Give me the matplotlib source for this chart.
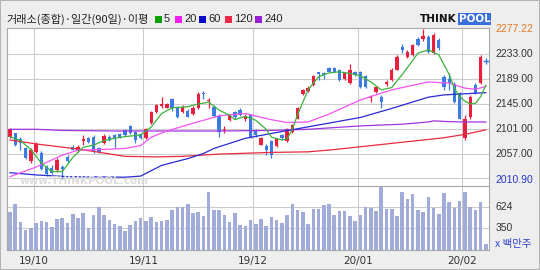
import matplotlib
matplotlib.use('Agg')
import matplotlib.pyplot as plt
from matplotlib.patches import Rectangle

plt.rcParams['font.family'] = ['Noto Sans CJK KR', 'DejaVu Sans']

W, H = 540, 270

# KOSPI daily candles, 2019-09-24 .. 2020-02-06
opens = [2087, 2093, 2082, 2066, 2043, 2060, 2058, 2033, 2032, 2028,
         2033, 2051, 2068, 2061, 2080, 2084, 2087, 2066, 2075, 2087,
         2090, 2091, 2099, 2105, 2095, 2091, 2084, 2111, 2130, 2142,
         2138, 2154, 2138, 2130, 2132, 2127, 2137, 2164, 2150, 2140,
         2124, 2099, 2117, 2130, 2134, 2118, 2125, 2097, 2073, 2071,
         2079, 2070, 2090, 2080, 2096, 2119, 2162, 2168, 2179, 2201,
         2199, 2208, 2209, 2205, 2190, 2183, 2202, 2201, 2194, 2155,
         2166, 2157, 2180, 2187, 2206, 2246, 2228, 2232, 2261, 2260,
         2264, 2235, 2258, 2193, 2189, 2180, 2164, 2084, 2121, 2178,
         2182]
highs = [2102, 2094, 2087, 2068, 2066, 2078, 2062, 2037, 2037, 2049,
         2037, 2054, 2072, 2072, 2090, 2086, 2090, 2068, 2092, 2090,
         2092, 2093, 2101, 2108, 2097, 2093, 2102, 2132, 2145, 2157,
         2146, 2156, 2141, 2143, 2136, 2141, 2166, 2168, 2155, 2143,
         2127, 2105, 2127, 2132, 2138, 2127, 2127, 2100, 2086, 2074,
         2081, 2084, 2092, 2102, 2109, 2139, 2172, 2177, 2197, 2202,
         2202, 2210, 2210, 2207, 2202, 2215, 2204, 2203, 2196, 2161,
         2177, 2161, 2187, 2209, 2231, 2251, 2241, 2251, 2264, 2277.22,
         2267, 2271, 2262, 2196, 2200, 2184, 2166, 2125, 2160, 2182,
         2231]
lows = [2084, 2070, 2063, 2047, 2040, 2058, 2028, 2017, 2020, 2024,
        2011, 2041, 2063, 2060, 2072, 2075, 2058, 2058, 2074, 2079,
        2066, 2084, 2088, 2092, 2075, 2083, 2083, 2109, 2129, 2138,
        2137, 2132, 2120, 2129, 2121, 2125, 2136, 2154, 2137, 2122,
        2087, 2093, 2115, 2118, 2124, 2115, 2085, 2086, 2072, 2054,
        2049, 2069, 2081, 2077, 2093, 2118, 2160, 2166, 2177, 2187,
        2190, 2201, 2201, 2186, 2188, 2181, 2194, 2173, 2173, 2149,
        2164, 2137, 2177, 2186, 2205, 2235, 2226, 2230, 2248, 2256,
        2235, 2233, 2241, 2170, 2170, 2146, 2118, 2081, 2118, 2162,
        2180]
closes = [2100, 2072, 2076, 2049, 2063, 2074, 2030, 2021, 2022, 2046,
          2030, 2044, 2064, 2069, 2082, 2078, 2060, 2060, 2088, 2081,
          2084, 2087, 2090, 2093, 2081, 2084, 2100, 2130, 2143, 2144,
          2144, 2137, 2122, 2140, 2122, 2138, 2162, 2162, 2152, 2124,
          2096, 2101, 2125, 2121, 2125, 2123, 2087, 2090, 2084, 2064,
          2054, 2082, 2084, 2100, 2108, 2137, 2170, 2174, 2195, 2198,
          2196, 2202, 2202, 2187, 2199, 2205, 2196, 2175, 2175, 2157,
          2175, 2148, 2184, 2206, 2229, 2240, 2237, 2249, 2250, 2266,
          2238, 2268, 2244, 2175, 2182, 2148, 2119, 2119, 2158, 2164,
          2228]
# volume, million shares
volumes = [553, 654, 426, 328, 358, 421, 443, 426, 363, 464,
           477, 421, 531, 485, 540, 350, 519, 620, 519, 451,
           401, 383, 320, 392, 438, 485, 443, 497, 430, 443,
           451, 582, 624, 624, 662, 540, 561, 510, 807, 582,
           582, 519, 430, 540, 396, 375, 451, 408, 468, 375,
           497, 451, 421, 519, 662, 582, 553, 408, 595, 595,
           642, 654, 519, 569, 569, 506, 443, 519, 624, 604,
           569, 878, 595, 595, 506, 807, 725, 781, 582, 553,
           751, 604, 531, 794, 684, 604, 696, 814, 624, 582,
           684]
# today's first tick
today_price = 2222
today_volume = 151

# moving averages (candle index -> value)
ma5_idx = [0, 2, 4, 6, 8, 10, 12, 14, 16, 18, 20, 22, 25, 27, 29, 31, 34, 36, 38,
           40, 42, 43, 45, 47, 49, 50, 52, 53, 54, 55, 57, 59, 61, 63, 65, 67,
           69, 71, 73, 75, 77, 78, 80, 82, 84, 85, 86, 87, 88, 89, 90, 91]
ma5_val = [2087, 2080, 2064, 2040, 2025, 2025, 2050, 2068, 2072, 2080, 2084, 2087,
           2090, 2104, 2128, 2138, 2140, 2145, 2148, 2134, 2125, 2117, 2123, 2116,
           2100, 2086, 2081, 2083, 2100, 2126, 2170, 2193, 2200, 2202, 2199, 2195,
           2184, 2170, 2174, 2197, 2222, 2235, 2241, 2232, 2197, 2172, 2158, 2150,
           2145, 2146, 2158, 2178]
ma20_idx = [0, 5, 10, 13, 17, 22, 25, 27, 30, 34, 37, 40, 45, 50, 53, 57, 61, 67,
            73, 80, 84, 87, 89, 91]
ma20_val = [2016, 2033, 2054, 2063, 2064, 2066, 2071, 2086, 2097, 2108, 2116, 2124,
            2128, 2117, 2112, 2113, 2127, 2152, 2170, 2184, 2182, 2173, 2171, 2176]
ma60_idx = [0, 5, 11, 22, 25, 29, 34, 37, 39, 45, 52, 58, 67, 73, 80, 83, 87, 91]
ma60_val = [2023, 2019, 2016, 2015, 2017, 2036, 2048, 2057, 2066, 2084, 2096, 2106,
            2121, 2137, 2157, 2161, 2163, 2165]
ma120_idx = [0, 5, 13, 22, 28, 33, 40, 50, 57, 62, 67, 75, 83, 87, 91]
ma120_val = [2081, 2074, 2065, 2052, 2051, 2052, 2056, 2059, 2060, 2064, 2069, 2077,
             2085, 2091, 2099]
ma240_idx = [0, 5, 10, 20, 30, 40, 50, 57, 62, 67, 75, 80, 81, 83, 86, 91]
ma240_val = [2100, 2100, 2098, 2097, 2097, 2097, 2098, 2100, 2103, 2106, 2109, 2113,
             2115, 2114, 2113, 2113]

month_labels = ['19/10', '19/11', '19/12', '20/01', '20/02']
month_first = [5, 26, 47, 67, 87]

price_labels = ['2277.22', '2233.00', '2189.00', '2145.00', '2101.00', '2057.00', '2010.90']
price_levels = [2277.22, 2233, 2189, 2145, 2101, 2057, 2010.90]
grid_levels = [2233, 2189, 2145, 2101, 2057, 2013]
vol_levels = [624, 350]

UP = '#ea1f3d'
DOWN = '#3b7be3'
GRID = '#cccccc'
AXFONT = ['Liberation Sans', 'DejaVu Sans']


def px_axes(fig, left, top, right, bottom):
    return fig.add_axes([left / W, 1 - bottom / H, (right - left) / W, (bottom - top) / H])


def ftext(fig, x, y, s, **kw):
    return fig.text(x / W, 1 - y / H, s, **kw)


fig = plt.figure(figsize=(W / 100, H / 100), dpi=100, facecolor='#eeeeee')
fig.patches.append(Rectangle((0, 0), 1, 1, transform=fig.transFigure, fill=False,
                             edgecolor='#b4b4b4', linewidth=1.5))

ax = px_axes(fig, 7, 28, 489, 186)
axv = px_axes(fig, 7, 186, 489, 250)
n = len(closes)
idx = list(range(n))
xlim = (-0.57, 91.6)

# --- price panel ---
for lvl in grid_levels:
    ax.axhline(lvl, color=GRID, lw=0.8, zorder=0)
for m in month_first:
    ax.axvline(m - 0.5, color=GRID, lw=0.8, zorder=0)
    axv.axvline(m - 0.5, color=GRID, lw=0.8, zorder=0)

ftext(fig, 20, 181, 'www.THINKPOOL.com', fontsize=7.5, color='#dcdcdc',
      fontweight='bold', family='DejaVu Sans', va='center', zorder=0)

colors = [UP if c >= o else DOWN for o, c in zip(opens, closes)]
ax.vlines(idx, lows, highs, colors=colors, lw=0.9, zorder=2)
body_lo = [min(o, c) for o, c in zip(opens, closes)]
body_h = [max(abs(c - o), 1.6) for o, c in zip(opens, closes)]
ax.bar(idx, body_h, bottom=body_lo, width=0.64, color=colors, lw=0, zorder=2)
ax.plot([n], [today_price], marker='+', color=DOWN, ms=5, mew=1, zorder=3)

ax.plot(ma240_idx, ma240_val, color='#a232e0', lw=0.9, zorder=3)
ax.plot(ma120_idx, ma120_val, color='#ea2a3e', lw=0.9, zorder=3)
ax.plot(ma60_idx, ma60_val, color='#2a2ad4', lw=0.9, zorder=3)
ax.plot(ma20_idx, ma20_val, color='#f452f4', lw=0.9, zorder=3)
ax.plot(ma5_idx, ma5_val, color='#3cb23c', lw=0.9, zorder=4)

ax.set_xlim(*xlim)
ax.set_ylim(1999.4, 2279.7)
ax.set_xticks([])
ax.set_yticks([])
for s in ax.spines.values():
    s.set_color('#a8a8a8')
    s.set_linewidth(0.8)

label_colors = ['#e57a22'] + ['#333333'] * 5 + ['#2436c8']
for lvl, lab, col in zip(price_levels, price_labels, label_colors):
    ax.text(1.013, lvl, lab, transform=ax.get_yaxis_transform(), fontsize=7.5,
            family=AXFONT, color=col, va='center', ha='left')

# --- volume panel ---
axv.bar(idx, volumes, width=0.68, color='#a2acd8', lw=0, zorder=2)
axv.bar([n], [today_volume], width=0.68, color='#a2acd8', lw=0, zorder=2)
for lvl in vol_levels:
    axv.axhline(lvl, color=GRID, lw=0.8, zorder=0)
    axv.text(1.013, lvl, str(lvl), transform=axv.get_yaxis_transform(), fontsize=7.5,
             family=AXFONT, color='#333333', va='center', ha='left')
axv.text(1.013, 0.1, 'x 백만주', transform=axv.transAxes, fontsize=7.5,
         color='#2f45d0', va='center', ha='left')
axv.set_xlim(*xlim)
axv.set_ylim(75, 887)
axv.set_yticks([])
axv.set_xticks([m - 0.5 for m in month_first])
axv.set_xticklabels(month_labels, fontsize=7.5, family='DejaVu Sans', color='#333333')
axv.tick_params(axis='x', length=0, pad=4)
for s in axv.spines.values():
    s.set_color('#a8a8a8')
    s.set_linewidth(0.8)

# --- header ---
ftext(fig, 6, 19.5, '거래소(종합)·일간(90일)·이평', fontsize=8, color='#222222', va='center')
legend_items = [('5', '#0aa00a', 155), ('20', '#f01ef0', 175), ('60', '#0a0ac8', 199),
                ('120', '#f0284a', 225), ('240', '#9a1ed2', 255)]
for lab, col, x0 in legend_items:
    fig.patches.append(Rectangle((x0 / W, 1 - 23 / H), 7 / W, 7 / H, transform=fig.transFigure,
                                 facecolor=col, edgecolor='none'))
    ftext(fig, x0 + 9, 19.5, lab, fontsize=8, family=AXFONT, color='#222222', va='center')

ftext(fig, 420, 19.5, 'THINK', fontsize=7.5, fontweight='bold', family='DejaVu Sans',
      color='#111111', va='center')
fig.patches.append(Rectangle((458 / W, 1 - 25 / H), 33 / W, 12 / H, transform=fig.transFigure,
                             facecolor='#3a6fdc', edgecolor='none'))
ftext(fig, 474.5, 19.5, 'POOL', fontsize=7.5, fontweight='bold', family='DejaVu Sans',
      color='white', va='center', ha='center')

fig.savefig('out.png', dpi=100, facecolor=fig.get_facecolor())
